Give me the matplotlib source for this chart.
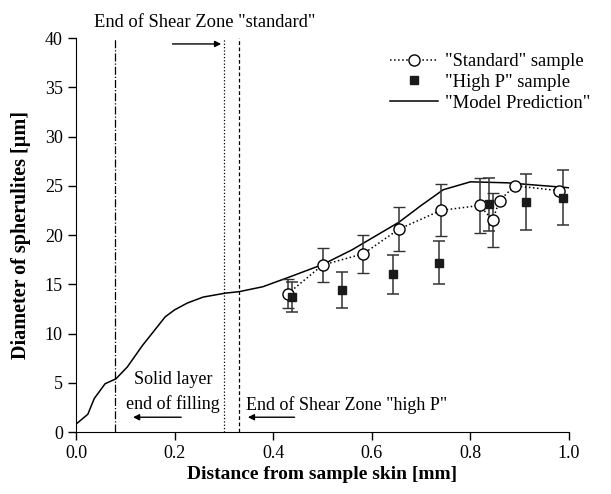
#! /usr/bin/env python3

import numpy as np
import matplotlib
matplotlib.use("Agg")
import matplotlib.pyplot as plt
from matplotlib.lines import Line2D

plt.rcParams['font.family'] = ['Liberation Serif', 'DejaVu Serif']

# "Standard" sample
std_x = [0.43, 0.50, 0.583, 0.655, 0.74, 0.819, 0.845, 0.859, 0.89, 0.98]
std_y = [14.05, 16.95, 18.1, 20.6, 22.5, 23.0, 21.5, 23.5, 25.0, 24.5]
std_err = [1.45, 1.75, 1.95, 2.2, 2.65, 2.8, 2.75, np.nan, np.nan, np.nan]

# "High P" sample
hp_x = [0.439, 0.539, 0.642, 0.737, 0.837, 0.913, 0.988]
hp_y = [13.7, 14.4, 16.0, 17.2, 23.1, 23.35, 23.8]
hp_err = [1.5, 1.8, 2.0, 2.2, 2.7, 2.8, 2.8]

# Model prediction
mod_x = [0, 0.024, 0.037, 0.059, 0.081, 0.104, 0.135, 0.162, 0.181, 0.2,
         0.226, 0.258, 0.303, 0.331, 0.379, 0.431, 0.50, 0.56, 0.655, 0.70,
         0.745, 0.80, 0.875, 1.0]
mod_y = [0.8, 1.8, 3.4, 4.9, 5.4, 6.6, 8.8, 10.5, 11.7, 12.4,
         13.1, 13.7, 14.1, 14.25, 14.75, 15.7, 17.0, 18.5, 21.3, 23.0,
         24.6, 25.4, 25.3, 24.8]

# zone boundaries
solid_layer = 0.08
shear_std = 0.30
shear_hp = 0.33

fig = plt.figure(figsize=(6.11, 4.94), dpi=100)
ax = fig.add_axes([0.1244, 0.1255, 0.8069, 0.7975])

ax.axvline(solid_layer, color='black', lw=0.9, ls='-.')
ax.axvline(shear_std, color='black', lw=0.9, ls=':')
ax.axvline(shear_hp, color='black', lw=0.9, ls='--', dashes=(3, 2))

ax.plot(mod_x, mod_y, color='black', lw=1.1)
ax.errorbar(std_x, std_y, yerr=std_err, color='black', ls=':', lw=1.1,
            marker='o', ms=8, mfc='white', mec='black', mew=1.0,
            ecolor='#333333', elinewidth=1.1, capsize=4, capthick=1.1,
            zorder=3)
ax.errorbar(hp_x, hp_y, yerr=hp_err, color='black', ls='none',
            marker='s', ms=6, mfc='#1a1a1a', mec='#1a1a1a',
            ecolor='#333333', elinewidth=1.1, capsize=4, capthick=1.1,
            zorder=3)

ax.set_xlim(0, 1.0)
ax.set_ylim(0, 40)
ax.set_xticks(np.arange(0, 1.01, 0.2))
ax.set_xticklabels(['%.1f' % v for v in np.arange(0, 1.01, 0.2)])
ax.set_yticks(np.arange(0, 41, 5))
ax.spines['top'].set_visible(False)
ax.spines['right'].set_visible(False)
ax.tick_params(direction='out', length=6, width=1, labelsize=13)
ax.set_xlabel('Distance from sample skin [mm]', fontsize=14, fontweight='bold',
              labelpad=3)
ax.set_ylabel('Diameter of spherulites [µm]', fontsize=14.5, fontweight='bold',
              labelpad=10)

# annotations
ax.text(0.26, 41.6, 'End of Shear Zone "standard"', fontsize=13.3,
        ha='center', va='center', clip_on=False)
ax.annotate('', xy=(0.30, 39.4), xytext=(0.19, 39.4),
            arrowprops=dict(arrowstyle='-|>', color='black', lw=1.0,
                            mutation_scale=9))
ax.text(0.197, 5.3, 'Solid layer', fontsize=13, ha='center', va='center')
ax.text(0.197, 2.85, 'end of filling', fontsize=13, ha='center', va='center')
ax.annotate('', xy=(0.11, 1.5), xytext=(0.219, 1.5),
            arrowprops=dict(arrowstyle='-|>', color='black', lw=1.0,
                            mutation_scale=9))
ax.text(0.548, 2.75, 'End of Shear Zone "high P"', fontsize=13,
        ha='center', va='center')
ax.annotate('', xy=(0.343, 1.5), xytext=(0.449, 1.5),
            arrowprops=dict(arrowstyle='-|>', color='black', lw=1.0,
                            mutation_scale=9))

handles = [
    Line2D([], [], color='black', ls=':', lw=1.1, marker='o', ms=8,
           mfc='white', mec='black'),
    Line2D([], [], color='black', ls='none', marker='s', ms=6,
           mfc='#1a1a1a', mec='#1a1a1a'),
    Line2D([], [], color='black', lw=1.1),
]
labels = ['"Standard" sample', '"High P" sample', '"Model Prediction"']
ax.legend(handles, labels, loc='upper left', bbox_to_anchor=(0.637, 0.962),
          borderaxespad=0, borderpad=0, frameon=False, fontsize=13.4,
          handlelength=2.6, handletextpad=0.35, labelspacing=0.2)

fig.savefig('out.png', dpi=100)
